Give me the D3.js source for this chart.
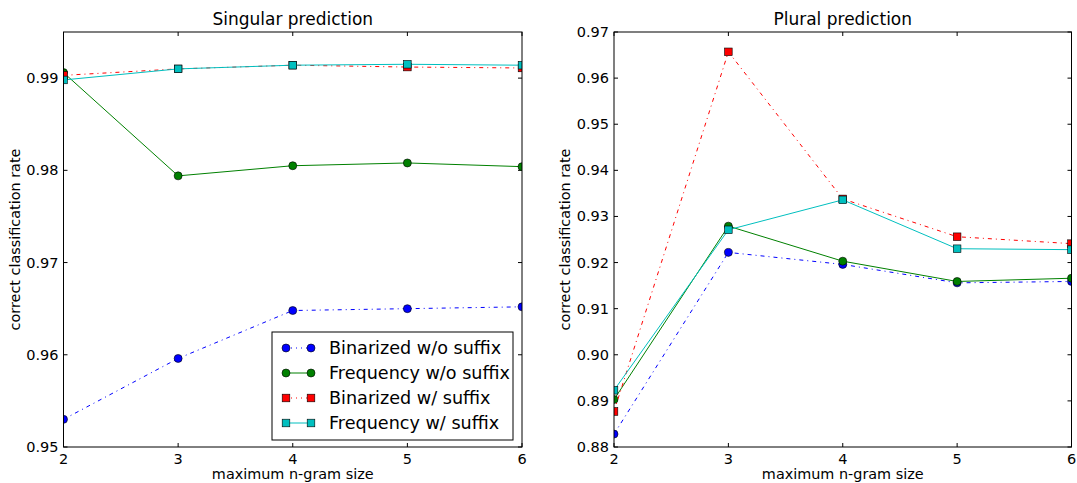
<!DOCTYPE html>
<html>
<head>
<meta charset="utf-8">
<script src="https://cdn.jsdelivr.net/npm/d3@7"></script>
<style>
  body { margin: 0; background: #fff; }
  svg { display: block; font-family: "DejaVu Sans", sans-serif; }
</style>
</head>
<body>
<svg id="chart" width="1077" height="483"></svg>
<script>
'use strict';

// n-gram sizes on the x axis
var ngramSizes = [2, 3, 4, 5, 6];
var seriesNames = ['Binarized w/o suffix', 'Frequency w/o suffix', 'Binarized w/ suffix', 'Frequency w/ suffix'];

// singular prediction
var singBinNoSuffix = [0.9530, 0.9596, 0.9648, 0.9650, 0.9652];
var singFreqNoSuffix = [0.9906, 0.9794, 0.9805, 0.9808, 0.9804];
var singBinSuffix = [0.9903, 0.9910, 0.9914, 0.9912, 0.9911];
var singFreqSuffix = [0.9898, 0.9910, 0.9914, 0.9915, 0.9914];

// plural prediction
var plurBinNoSuffix = [0.8828, 0.9222, 0.9196, 0.9156, 0.9159];
var plurFreqNoSuffix = [0.8903, 0.9279, 0.9203, 0.9159, 0.9166];
var plurBinSuffix = [0.8877, 0.9657, 0.9338, 0.9256, 0.9241];
var plurFreqSuffix = [0.8923, 0.9271, 0.9336, 0.9230, 0.9228];

var singTicks = [0.95, 0.96, 0.97, 0.98, 0.99];
var plurTicks = [0.88, 0.89, 0.90, 0.91, 0.92, 0.93, 0.94, 0.95, 0.96, 0.97];

/** line styles per series */
var styles = [
    { color: '#0000ff', dash: '4,4,1,4', marker: 'circle' },
    { color: '#008000', dash: null, marker: 'circle' },
    { color: '#ff0000', dash: '4,4,1,4', marker: 'square' },
    { color: '#00bfbf', dash: null, marker: 'square' }
];

var svg = d3.select('#chart');

function drawPanel(opts) {
    var left = opts.left, right = opts.right, top = 32, bottom = 447;
    var x = d3.scaleLinear().domain([2, 6]).range([left, right]);
    var y = d3.scaleLinear().domain(opts.domain).range([bottom, top]);
    var g = svg.append('g');

    g.append('clipPath').attr('id', opts.id)
        .append('rect')
        .attr('x', left).attr('y', top)
        .attr('width', right - left).attr('height', bottom - top);

    // ticks pointing inward on all four sides
    var tickLen = 4;
    ngramSizes.forEach(function(v) {
        g.append('line').attr('x1', x(v)).attr('x2', x(v))
            .attr('y1', bottom).attr('y2', bottom - tickLen)
            .attr('stroke', '#000');
        g.append('line').attr('x1', x(v)).attr('x2', x(v))
            .attr('y1', top).attr('y2', top + tickLen)
            .attr('stroke', '#000');
    });
    opts.ticks.forEach(function(v) {
        g.append('line').attr('x1', left).attr('x2', left + tickLen)
            .attr('y1', y(v)).attr('y2', y(v)).attr('stroke', '#000');
        g.append('line').attr('x1', right).attr('x2', right - tickLen)
            .attr('y1', y(v)).attr('y2', y(v)).attr('stroke', '#000');
    });

    g.selectAll('text.xt')
        .data(ngramSizes)
        .enter()
        .append('text')
        .attr('class', 'xt')
        .attr('x', function(d) { return x(d); })
        .attr('y', 464)
        .attr('text-anchor', 'middle')
        .attr('font-size', 14.5)
        .text(function(d) { return d; });

    g.selectAll('text.yt')
        .data(opts.ticks)
        .enter()
        .append('text')
        .attr('class', 'yt')
        .attr('x', left - 5)
        .attr('y', function(d) { return y(d) + 5; })
        .attr('text-anchor', 'end')
        .attr('font-size', 14.5)
        .text(function(d) { return d3.format('.2f')(d); });

    // data lines and markers
    var plot = g.append('g').attr('clip-path', 'url(#' + opts.id + ')');
    opts.series.forEach(function(vals, i) {
        var st = styles[i];
        var line = d3.line()
            .x(function(d, j) { return x(ngramSizes[j]); })
            .y(function(d) { return y(d); });
        plot.append('path')
            .datum(vals)
            .attr('d', line)
            .attr('fill', 'none')
            .attr('stroke', st.color)
            .attr('stroke-width', 1)
            .attr('stroke-dasharray', st.dash);
        if (st.marker === 'circle') {
            plot.selectAll('circle.s' + i)
                .data(vals)
                .enter()
                .append('circle')
                .attr('class', 's' + i)
                .attr('cx', function(d, j) { return x(ngramSizes[j]); })
                .attr('cy', function(d) { return y(d); })
                .attr('r', 4)
                .attr('fill', st.color)
                .attr('stroke', '#000')
                .attr('stroke-width', 0.6);
        } else {
            plot.selectAll('rect.s' + i)
                .data(vals)
                .enter()
                .append('rect')
                .attr('class', 's' + i)
                .attr('x', function(d, j) { return x(ngramSizes[j]) - 3.8; })
                .attr('y', function(d) { return y(d) - 3.8; })
                .attr('width', 7.6)
                .attr('height', 7.6)
                .attr('fill', st.color)
                .attr('stroke', '#000')
                .attr('stroke-width', 0.6);
        }
    });

    g.append('rect')
        .attr('x', left).attr('y', top)
        .attr('width', right - left).attr('height', bottom - top)
        .attr('fill', 'none').attr('stroke', '#000').attr('stroke-width', 1);

    g.append('text')
        .attr('x', (left + right) / 2).attr('y', 25)
        .attr('text-anchor', 'middle')
        .attr('font-size', 17)
        .text(opts.title);

    g.append('text')
        .attr('x', (left + right) / 2).attr('y', 479)
        .attr('text-anchor', 'middle')
        .attr('font-size', 14.4)
        .text('maximum n-gram size');

    g.append('text')
        .attr('transform', 'translate(' + (left - 44) + ',' + ((top + bottom) / 2) + ') rotate(-90)')
        .attr('text-anchor', 'middle')
        .attr('font-size', 14.4)
        .text('correct classification rate');

    return { x: x, y: y };
}

drawPanel({
    id: 'clipL', left: 63.5, right: 522, domain: [0.95, 0.995], ticks: singTicks,
    title: 'Singular prediction',
    series: [singBinNoSuffix, singFreqNoSuffix, singBinSuffix, singFreqSuffix]
});

drawPanel({
    id: 'clipR', left: 614, right: 1071.5, domain: [0.88, 0.97], ticks: plurTicks,
    title: 'Plural prediction',
    series: [plurBinNoSuffix, plurFreqNoSuffix, plurBinSuffix, plurFreqSuffix]
});

/** LEGEND in the singular panel */
var lg = svg.append('g');
var lgX = 272, lgY = 332, rowH = 25;
lg.append('rect')
    .attr('x', lgX).attr('y', lgY)
    .attr('width', 241).attr('height', 108)
    .attr('fill', '#fff').attr('stroke', '#000').attr('stroke-width', 1);

seriesNames.forEach(function(name, i) {
    var st = styles[i];
    var cy = lgY + 16 + i * rowH;
    lg.append('line')
        .attr('x1', lgX + 14).attr('x2', lgX + 39)
        .attr('y1', cy).attr('y2', cy)
        .attr('stroke', st.color)
        .attr('stroke-dasharray', st.dash ? '1,4' : null);
    [lgX + 14, lgX + 39].forEach(function(mx) {
        if (st.marker === 'circle') {
            lg.append('circle').attr('cx', mx).attr('cy', cy).attr('r', 4)
                .attr('fill', st.color).attr('stroke', '#000').attr('stroke-width', 0.6);
        } else {
            lg.append('rect').attr('x', mx - 3.8).attr('y', cy - 3.8)
                .attr('width', 7.6).attr('height', 7.6)
                .attr('fill', st.color).attr('stroke', '#000').attr('stroke-width', 0.6);
        }
    });
    lg.append('text')
        .attr('x', lgX + 57).attr('y', cy + 6)
        .attr('font-size', 17.6)
        .text(name);
});
</script>
</body>
</html>
